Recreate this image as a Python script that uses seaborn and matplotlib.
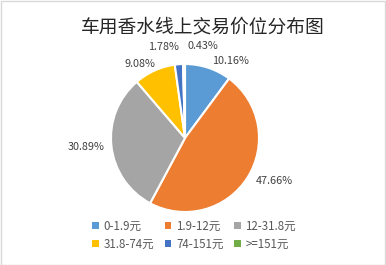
import numpy as np
import matplotlib
matplotlib.use("Agg")
import matplotlib.pyplot as plt
import seaborn as sns
from matplotlib.patches import Rectangle, Patch

sns.set_theme(style="white")
plt.rcParams['font.family'] = ['Noto Sans CJK SC', 'DejaVu Sans']

title = "车用香水线上交易价位分布图"
categories = ["0-1.9元", "1.9-12元", "12-31.8元", "31.8-74元", "74-151元", ">=151元"]
shares = [10.16, 47.66, 30.89, 9.08, 1.78, 0.43]
pct_labels = ["10.16%", "47.66%", "30.89%", "9.08%", "1.78%", "0.43%"]
colors = ["#5B9BD5", "#ED7D31", "#A5A5A5", "#FFC000", "#4472C4", "#70AD47"]
label_dist = [1.02, 1.08, 1.12, 1.02, 1.16, 1.17]

W, H = 386, 265
fig = plt.figure(figsize=(W / 100, H / 100), dpi=100)
fig.patch.set_facecolor("white")

cx, cy, r = 185, 138, 74
ax = fig.add_axes([(cx - r) / W, (H - cy - r) / H, 2 * r / W, 2 * r / H])
wedges, _ = ax.pie(shares, colors=colors, startangle=90, counterclock=False,
                   radius=1.0, wedgeprops=dict(edgecolor="white", linewidth=1.5))
ax.set_xlim(-1, 1)
ax.set_ylim(-1, 1)
ax.set_aspect("equal")
ax.axis("off")

for w, lab, f in zip(wedges, pct_labels, label_dist):
    th = np.deg2rad((w.theta1 + w.theta2) / 2)
    x, y = f * np.cos(th), f * np.sin(th)
    if np.cos(th) > -0.05:
        ha = "left"
        x += 0.05
    else:
        ha = "right"
        x += 0.02
    if abs(np.sin(th)) < 0.3:
        va = "center"
    elif np.sin(th) > 0:
        va = "bottom"
    else:
        va = "top"
    if lab == "47.66%":
        va = "center"
    ax.text(x, y, lab, ha=ha, va=va, fontsize=7.8, color="#404040")

fig.text(203 / W, 1 - 27 / H, title, ha="center", va="center",
         fontsize=13.5, color="#262626")

order = [0, 3, 1, 4, 2, 5]
handles = [Patch(facecolor=colors[i], edgecolor="none") for i in order]
labels = [categories[i] for i in order]
leg = fig.legend(handles, labels, ncol=3, loc="center",
                 bbox_to_anchor=(194 / W, 1 - 235 / H), frameon=False,
                 fontsize=8.3, handlelength=0.6, handleheight=0.6,
                 handletextpad=0.4, columnspacing=0.9, labelspacing=0.45)
for t in leg.get_texts():
    t.set_color("#595959")

fig.patches.append(Rectangle((0.5 / W, 0.5 / H), 1 - 1.5 / W, 1 - 1.5 / H,
                             transform=fig.transFigure, fill=False,
                             edgecolor="#D9D9D9", linewidth=1))

fig.savefig("out.png", dpi=100)
